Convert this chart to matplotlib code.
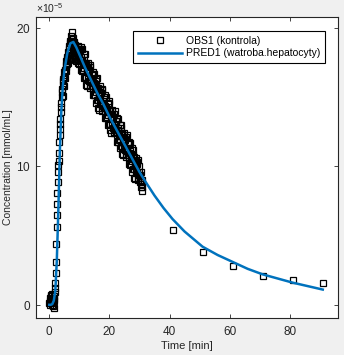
"""Concentration vs time: observed points and model prediction"""
import numpy as np
import matplotlib
matplotlib.use('Agg')
import matplotlib.pyplot as plt
from matplotlib.ticker import ScalarFormatter

# observed data (x1e-5 mmol/mL), dense part: two interleaved 0.2 min grids
obs_t_a = np.round(np.arange(0, 31.01, 0.2), 1)
obs_c_a = [
    0.1, 0.5, 0.2, 0.7, 0.0, 0.4, -0.1, 0.3, 0.6, 0.9,
    1.6, 3.1, 5.6, 7.3, 8.9, 10.1, 11.0, 12.3, 13.1, 13.9,
    14.6, 15.4, 15.1, 16.2, 15.8, 16.8, 16.4, 17.3, 16.9, 17.8,
    17.4, 18.3, 17.7, 18.5, 18.9, 18.2, 19.1, 19.7, 18.6, 18.9,
    19.3, 18.5, 18.0, 18.8, 18.3, 17.6, 18.5, 17.5, 18.7, 17.4,
    18.1, 18.4, 17.4, 18.6, 16.9, 17.7, 17.4, 18.1, 16.4, 17.5,
    18.1, 16.5, 16.9, 15.8, 17.3, 16.3, 16.9, 15.8, 17.2, 16.1,
    16.3, 16.6, 15.6, 16.8, 15.2, 16.0, 15.6, 16.3, 14.6, 15.7,
    16.4, 14.8, 15.2, 14.1, 15.6, 14.6, 15.3, 14.2, 15.5, 14.4,
    14.6, 14.9, 14.0, 15.2, 13.5, 14.3, 13.9, 14.6, 13.0, 14.1,
    14.7, 13.1, 13.5, 12.4, 14.0, 13.0, 13.6, 12.5, 13.8, 12.7,
    13.0, 13.3, 12.3, 13.5, 11.8, 12.6, 12.2, 13.0, 11.3, 12.4,
    13.0, 11.4, 11.8, 10.8, 12.3, 11.3, 11.9, 10.8, 12.1, 11.1,
    11.3, 11.6, 10.6, 11.8, 10.1, 11.0, 10.6, 11.3, 9.6, 10.7,
    10.8, 9.8, 10.2, 9.1, 10.6, 9.6, 10.2, 9.2, 10.5, 9.4,
    9.6, 8.9, 8.9, 9.6, 8.2, 8.5,
]
obs_t_b = np.round(np.arange(0.1, 31.0, 0.2), 1)
obs_c_b = [
    0.3, 0.0, 0.6, 0.2, 0.8, 0.1, 0.5, -0.2, 0.4, 1.2,
    2.3, 4.4, 6.5, 8.1, 9.6, 10.4, 11.8, 12.7, 13.4, 14.3,
    15.0, 15.6, 15.9, 16.3, 16.5, 17.0, 16.9, 17.6, 17.2, 17.9,
    18.0, 17.5, 18.7, 18.3, 19.1, 18.5, 19.4, 18.8, 19.2, 18.4,
    18.9, 19.0, 18.2, 18.6, 17.9, 18.4, 17.7, 18.3, 17.8, 18.5,
    17.7, 18.5, 17.0, 17.9, 18.5, 17.0, 17.5, 17.1, 17.9, 16.5,
    17.4, 15.9, 17.2, 16.8, 17.5, 16.2, 17.0, 15.7, 17.3, 16.1,
    15.8, 16.7, 15.2, 16.1, 16.7, 15.2, 15.7, 15.4, 16.2, 14.8,
    15.7, 14.2, 15.4, 15.1, 15.8, 14.5, 15.3, 14.0, 15.6, 14.5,
    14.2, 15.0, 13.5, 14.4, 15.0, 13.6, 14.1, 13.7, 14.5, 13.1,
    14.0, 12.6, 13.8, 13.4, 14.1, 12.8, 13.6, 12.4, 14.0, 12.8,
    12.5, 13.3, 11.8, 12.8, 13.4, 11.9, 12.4, 12.0, 12.8, 11.5,
    12.4, 10.9, 12.1, 11.7, 12.4, 11.2, 12.0, 10.7, 12.3, 11.1,
    10.8, 11.7, 10.2, 11.1, 11.7, 10.2, 10.7, 10.4, 11.2, 9.8,
    10.7, 9.2, 10.4, 10.1, 10.3, 9.5, 10.3, 9.0, 10.0, 9.4,
    9.2, 9.4, 8.5, 9.0, 8.7,
]
obs_t_late = [41, 51, 61, 71, 81, 91]
obs_c_late = [5.4, 3.8, 2.8, 2.1, 1.8, 1.6]

# model prediction (x1e-5 mmol/mL)
pred_t = [0, 0.5, 1, 1.5, 2, 2.5, 3, 3.5, 4, 4.5, 5, 6, 7, 8, 9, 10, 12, 14,
          16, 18, 20, 22, 24, 26, 28, 30, 32, 35, 38, 41, 45, 51, 56, 61, 66,
          71, 76, 81, 86, 91]
pred_c = [0.0, 0.0, 0.05, 0.3, 1.0, 3.2, 6.8, 11.0, 14.0, 15.8, 16.9, 18.2,
          18.9, 19.0, 18.6, 18.1, 17.1, 16.2, 15.3, 14.5, 13.6, 12.8, 12.0,
          11.2, 10.4, 9.6, 8.9, 7.9, 7.0, 6.2, 5.3, 4.2, 3.6, 3.1, 2.6, 2.2,
          1.9, 1.6, 1.35, 1.1]

plt.rcParams['font.family'] = ['Liberation Sans', 'DejaVu Sans']
plt.rcParams['mathtext.fontset'] = 'custom'
plt.rcParams['mathtext.rm'] = 'Liberation Sans'
plt.rcParams['mathtext.it'] = 'Liberation Sans:italic'

dark = '#262626'
fig = plt.figure(figsize=(3.44, 3.55), dpi=100, facecolor='#f0f0f0')
ax = fig.add_axes([0.104, 0.104, 0.878, 0.848])

obs_t = list(obs_t_a) + list(obs_t_b) + obs_t_late
obs_c = np.array(obs_c_a + obs_c_b + obs_c_late) * 1e-5
ax.plot(obs_t, obs_c, 's', mfc='none', mec='black', ms=5, mew=0.9,
        label='OBS1 (kontrola)')
ax.plot(pred_t, np.array(pred_c) * 1e-5, '-', color='#0072BD', lw=1.8,
        label='PRED1 (watroba.hepatocyty)')

ax.set_xlim(-4.5, 96)
ax.set_ylim(-0.96e-5, 20.8e-5)
ax.set_xticks([0, 20, 40, 60, 80])
ax.set_yticks([0, 10e-5, 20e-5])
fmt = ScalarFormatter(useMathText=True)
fmt.set_powerlimits((-5, -5))
ax.yaxis.set_major_formatter(fmt)
ax.yaxis.get_offset_text().set_fontsize(7.5)
ax.yaxis.get_offset_text().set_color('#505050')

ax.tick_params(direction='in', length=3, width=0.6, colors=dark,
               labelsize=8.5, top=True, right=True)
ax.tick_params(axis='x', pad=6)
ax.tick_params(axis='y', pad=3.5)
for sp in ax.spines.values():
    sp.set_color(dark)
    sp.set_linewidth(0.8)

ax.set_xlabel('Time [min]', fontsize=8, color=dark, labelpad=2)
ax.set_ylabel('Concentration [mmol/mL]', fontsize=7.5, color=dark, labelpad=2)

leg = ax.legend(loc='upper right', bbox_to_anchor=(0.958, 0.953),
                borderaxespad=0, fontsize=7.5, fancybox=False,
                edgecolor='black', framealpha=1, handlelength=4.2,
                handletextpad=0.4, borderpad=0.45, labelspacing=0.25)
leg.get_frame().set_linewidth(0.8)

fig.savefig('out.png', dpi=100, facecolor=fig.get_facecolor())
